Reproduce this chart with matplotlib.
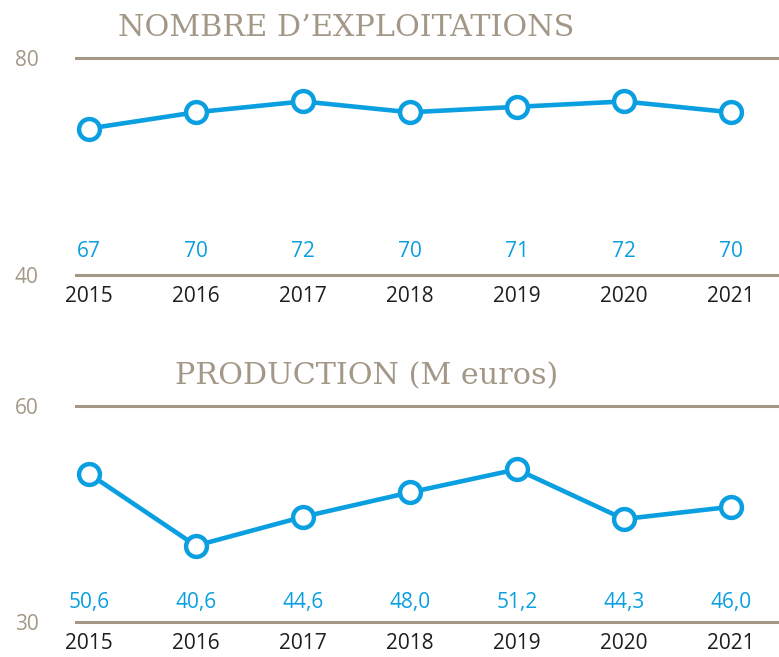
import matplotlib.pyplot as plt

# =========================
# DATA
# =========================

years = [2015, 2016, 2017, 2018, 2019, 2020, 2021]

exploitations = [67, 70, 72, 70, 71, 72, 70]
exploitations_labels = ["67", "70", "72", "70", "71", "72", "70"]

production = [50.6, 40.6, 44.6, 48.0, 51.2, 44.3, 46.0]
production_labels = ["50,6", "40,6", "44,6", "48,0", "51,2", "44,3", "46,0"]

# =========================
# STYLE
# =========================

BLUE = "#0a9fe0"
TAUPE = "#a39888"
DARK = "#1e1e1e"
SANS = "Open Sans"
SLAB = "DejaVu Serif"

fig = plt.figure(figsize=(7.79, 6.57), dpi=100)


def panel(rect, values, labels, ylim, title, title_x, title_size, label_y):
    ax = fig.add_axes(rect)
    ax.plot(years, values, color=BLUE, lw=3.3, marker="o", ms=15,
            mfc="white", mec=BLUE, mew=3.2, zorder=3, clip_on=False)
    ax.set_xlim(2014.88, 2021.45)
    ax.set_ylim(*ylim)
    for s in ["left", "right"]:
        ax.spines[s].set_visible(False)
    for s in ["top", "bottom"]:
        ax.spines[s].set_color(TAUPE)
        ax.spines[s].set_linewidth(2.2)
    ax.set_xticks(years)
    ax.set_xticklabels([str(y) for y in years], fontsize=15, color=DARK,
                       family=SANS)
    ax.tick_params(axis="x", length=0, pad=8)
    ax.set_yticks(list(ylim))
    ax.set_yticklabels([str(v) for v in ylim], fontsize=15, color=TAUPE,
                       family=SANS)
    ax.tick_params(axis="y", length=0, pad=27)
    for x, lab in zip(years, labels):
        ax.text(x, label_y, lab, ha="center", va="center", color=BLUE,
                fontsize=15, family=SANS)
    fig.text(title_x, rect[1] + rect[3] + 0.024, title, ha="center",
             va="bottom", fontsize=title_size, color=TAUPE, family=SLAB)
    return ax


panel([0.0976, 0.5814, 0.9024, 0.3303], exploitations, exploitations_labels,
      (40, 80), "NOMBRE D\u2019EXPLOITATIONS", 0.444, 21.8, 44.4)
panel([0.0976, 0.0533, 0.9024, 0.3287], production, production_labels,
      (30, 60), "PRODUCTION (M euros)", 0.470, 21.8, 32.7)

plt.savefig("out.png", dpi=100)
